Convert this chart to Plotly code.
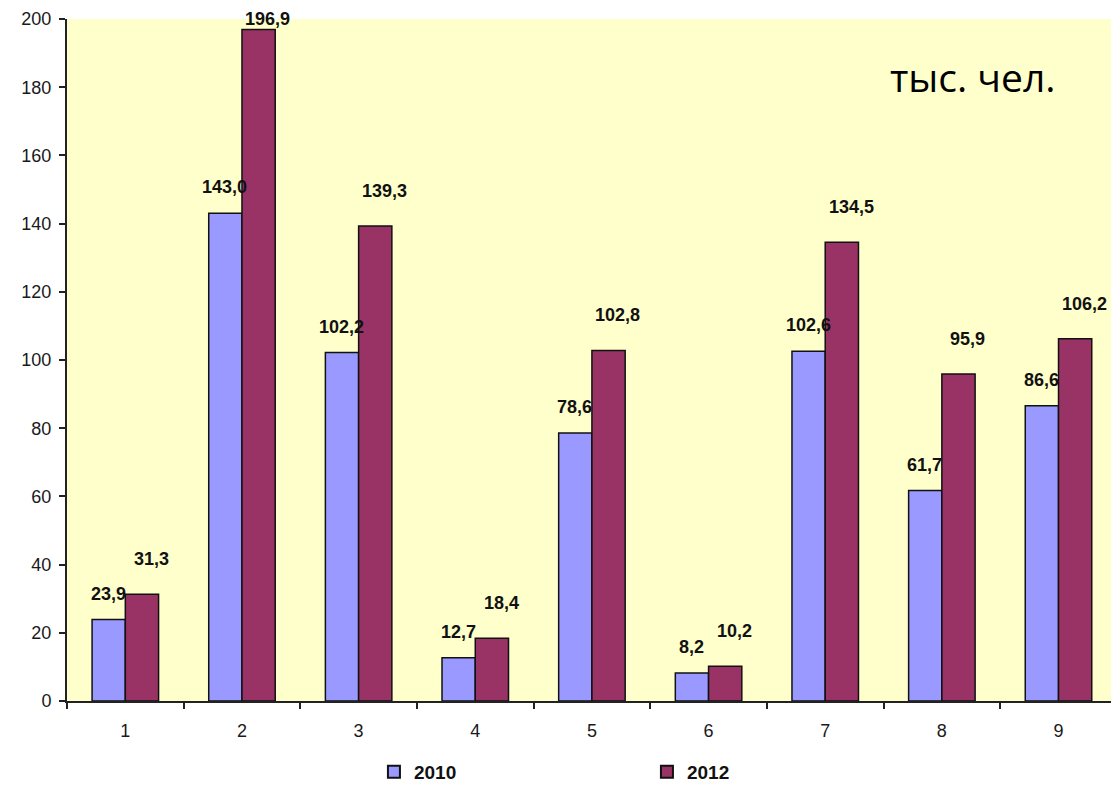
import plotly.graph_objects as go

categories = ["1", "2", "3", "4", "5", "6", "7", "8", "9"]
values_2010 = [23.9, 143.0, 102.2, 12.7, 78.6, 8.2, 102.6, 61.7, 86.6]
values_2012 = [31.3, 196.9, 139.3, 18.4, 102.8, 10.2, 134.5, 95.9, 106.2]
series_names = ["2010", "2012"]
y_ticks = [0, 20, 40, 60, 80, 100, 120, 140, 160, 180, 200]
unit_label = "тыс. чел."

Y_MAX = 200
PLOT_H = 786 - 19 - 85
PX_PER_UNIT = PLOT_H / Y_MAX


def fmt(v):
    return f"{v:.1f}".replace(".", ",")


fig = go.Figure()
fig.add_trace(go.Bar(
    x=categories, y=values_2010, name=f"<b>{series_names[0]}</b>",
    marker=dict(color="#9999FF", line=dict(color="#111111", width=1.5)),
))
fig.add_trace(go.Bar(
    x=categories, y=values_2012, name=f"<b>{series_names[1]}</b>",
    marker=dict(color="#993366", line=dict(color="#111111", width=1.5)),
))

label_font = dict(family="Liberation Sans, Arial", size=18, color="#111111")
for i, c in enumerate(categories):
    v1, v2 = values_2010[i], values_2012[i]
    fig.add_annotation(x=i, y=v1, xref="x", yref="y",
                       text=f"<b>{fmt(v1)}</b>", showarrow=False,
                       xshift=-17, yshift=min(26, (Y_MAX - v1) * PX_PER_UNIT), font=label_font)
    fig.add_annotation(x=i, y=v2, xref="x", yref="y",
                       text=f"<b>{fmt(v2)}</b>", showarrow=False,
                       xshift=26, yshift=min(35, (Y_MAX - v2) * PX_PER_UNIT), font=label_font)

fig.add_annotation(x=0.868, y=0.915, xref="paper", yref="paper",
                   xanchor="center", yanchor="middle",
                   text=unit_label, showarrow=False,
                   font=dict(family="Open Sans, Noto Sans", size=39, color="#000000"))

fig.update_layout(
    width=1111, height=786,
    margin=dict(l=67, r=0, t=19, b=85, autoexpand=False),
    paper_bgcolor="white",
    plot_bgcolor="#FFFFCC",
    barmode="group",
    bargap=0.43,
    bargroupgap=0,
    showlegend=True,
    legend=dict(orientation="h", x=0.294, xanchor="left", y=-0.104, yanchor="middle",
                entrywidth=228, entrywidthmode="pixels",
                font=dict(family="Liberation Sans, Arial", size=19, color="#111111"),
                itemsizing="constant"),
    font=dict(family="Liberation Sans, Arial", color="#1a1a1a"),
)

fig.update_xaxes(
    type="category", range=[-0.5, 8.45], automargin=False,
    showline=True, linecolor="#222222", linewidth=2,
    ticks="outside", tickson="boundaries", ticklen=6, tickcolor="#222222", tickwidth=2,
    showgrid=False, tickfont=dict(size=18, color="#1a1a1a"), ticklabelstandoff=12,
)
fig.update_yaxes(
    range=[0, Y_MAX], tickvals=y_ticks, automargin=False,
    showline=True, linecolor="#222222", linewidth=2,
    ticks="outside", ticklen=6, tickcolor="#222222", tickwidth=2,
    showgrid=False, zeroline=False, tickfont=dict(size=18, color="#1a1a1a"),
    ticklabelstandoff=4,
)

fig.write_html("out.html")
